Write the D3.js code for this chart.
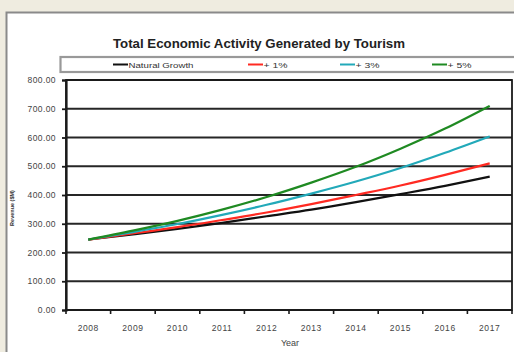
<!DOCTYPE html>
<html>
<head>
<meta charset="utf-8">
<script src="https://cdn.jsdelivr.net/npm/d3@7"></script>
<style>
  html, body { margin: 0; padding: 0; background: #efece0; }
  svg { display: block; }
</style>
</head>
<body>
<svg id="chart" width="514" height="352"></svg>
<script>
// Projected economic activity by year ($M) under four growth scenarios
const years = ["2008", "2009", "2010", "2011", "2012", "2013", "2014", "2015", "2016", "2017"];
const naturalGrowth = [245, 263, 282, 303, 326, 349, 375, 403, 432, 464];
const plus1 = [245, 266, 288, 313, 339, 368, 400, 433, 470, 510];
const plus3 = [245, 271, 299, 331, 366, 405, 447, 494, 547, 604];
const plus5 = [245, 276, 310, 349, 393, 443, 498, 561, 631, 710];
const seriesNames = ["Natural Growth", "+ 1%", "+ 3%", "+ 5%"];
const seriesColors = ["#111111", "#ff2a22", "#22a9b9", "#1f8a22"];
const yTicks = [0, 100, 200, 300, 400, 500, 600, 700, 800];

const series = [naturalGrowth, plus1, plus3, plus5].map((values, i) => ({
  name: seriesNames[i], color: seriesColors[i], values
}));

const FONT = "Liberation Sans, Arial, sans-serif";
const svg = d3.select("#chart");

// white panel framed in grey
svg.append("rect")
  .attr("x", 6.5).attr("y", 12.5).attr("width", 520).attr("height", 350)
  .attr("fill", "#ffffff").attr("stroke", "#8a8a8a").attr("stroke-width", 2);

const plot = { left: 66, right: 512, top: 80, bottom: 310 };

const x = d3.scaleBand().domain(years).range([plot.left, plot.right]);
const y = d3.scaleLinear().domain([0, 800]).range([plot.bottom, plot.top]);

// title
svg.append("text")
  .attr("x", 113).attr("y", 47.5)
  .attr("font-family", FONT)
  .attr("font-weight", "bold")
  .attr("font-size", 12)
  .attr("textLength", 292)
  .attr("lengthAdjust", "spacingAndGlyphs")
  .attr("fill", "#222")
  .text("Total Economic Activity Generated by Tourism");

// legend strip
svg.append("rect")
  .attr("x", 60.5).attr("y", 57).attr("width", 470).attr("height", 15)
  .attr("fill", "#fff").attr("stroke", "#999").attr("stroke-width", 2.2);

const legendX = [113, 248, 340, 432];
const legendTextW = [65, 24, 24, 24];
const legend = svg.append("g");
series.forEach((s, i) => {
  legend.append("line")
    .attr("x1", legendX[i]).attr("x2", legendX[i] + 15)
    .attr("y1", 64.5).attr("y2", 64.5)
    .attr("stroke", s.color).attr("stroke-width", 2);
  legend.append("text")
    .attr("x", legendX[i] + 15.5).attr("y", 67.5)
    .attr("font-family", FONT)
    .attr("font-size", 7.5)
    .attr("textLength", legendTextW[i])
    .attr("lengthAdjust", "spacingAndGlyphs")
    .attr("fill", "#333")
    .text(s.name);
});

// horizontal gridlines
svg.append("g")
  .selectAll("line")
  .data(yTicks)
  .join("line")
  .attr("x1", plot.left).attr("x2", plot.right)
  .attr("y1", d => y(d)).attr("y2", d => y(d))
  .attr("stroke", "#262626").attr("stroke-width", 1.8);

// plot frame
svg.append("rect")
  .attr("x", plot.left).attr("y", plot.top)
  .attr("width", plot.right - plot.left).attr("height", plot.bottom - plot.top)
  .attr("fill", "none").attr("stroke", "#1a1a1a").attr("stroke-width", 1.8);

// y axis
const yAxis = svg.append("g")
  .attr("transform", `translate(${plot.left},0)`)
  .call(d3.axisLeft(y).tickValues(yTicks).tickFormat(d3.format(".2f")).tickSize(4).tickPadding(6));
yAxis.select(".domain").attr("stroke", "#1a1a1a").attr("stroke-width", 2.2);
yAxis.selectAll(".tick line").attr("stroke", "#1a1a1a").attr("stroke-width", 1.8);
yAxis.selectAll("text")
  .attr("font-family", FONT)
  .attr("font-size", 8.5)
  .attr("letter-spacing", 0.4)
  .attr("fill", "#444");

// x axis: ticks sit on category boundaries, labels centred in each band
const xAxis = svg.append("g").attr("transform", `translate(0,${plot.bottom})`);
xAxis.append("line")
  .attr("x1", plot.left).attr("x2", plot.right)
  .attr("stroke", "#1a1a1a").attr("stroke-width", 2.2);
const boundaries = years.map(d => x(d)).concat([x(years[years.length - 1]) + x.bandwidth()]);
xAxis.selectAll("line.tk")
  .data(boundaries)
  .join("line").attr("class", "tk")
  .attr("x1", d => d).attr("x2", d => d)
  .attr("y1", 0).attr("y2", 4)
  .attr("stroke", "#1a1a1a").attr("stroke-width", 1.6);
xAxis.selectAll("text")
  .data(years)
  .join("text")
  .attr("x", d => x(d) + x.bandwidth() / 2)
  .attr("y", 21)
  .attr("text-anchor", "middle")
  .attr("font-family", FONT)
  .attr("font-size", 8.5)
  .attr("letter-spacing", 0.6)
  .attr("fill", "#444")
  .text(d => d);

// axis titles
svg.append("text")
  .attr("x", 290).attr("y", 346)
  .attr("text-anchor", "middle")
  .attr("font-family", FONT)
  .attr("font-size", 9)
  .attr("fill", "#444")
  .text("Year");

svg.append("text")
  .attr("transform", "translate(13.5,208) rotate(-90)")
  .attr("text-anchor", "middle")
  .attr("font-family", FONT)
  .attr("font-size", 5.5)
  .attr("font-weight", "bold")
  .attr("fill", "#333")
  .text("Revenue ($M)");

// series lines
const line = d3.line()
  .x((d, i) => x(years[i]) + x.bandwidth() / 2)
  .y(d => y(d))
  .curve(d3.curveMonotoneX);

svg.append("g")
  .selectAll("path")
  .data(series)
  .join("path")
  .attr("d", d => line(d.values))
  .attr("fill", "none")
  .attr("stroke", d => d.color)
  .attr("stroke-width", 2.2);
</script>
</body>
</html>
